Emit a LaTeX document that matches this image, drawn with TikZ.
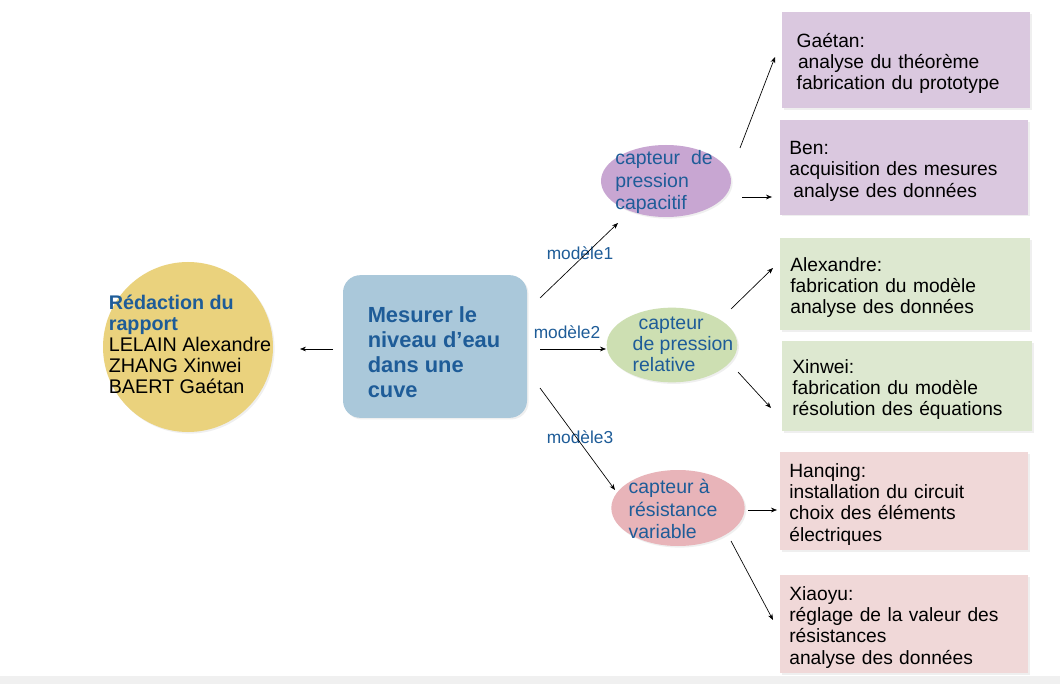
\documentclass[tikz,border=0pt]{standalone}
\usepackage{fontspec}
\setmainfont{Liberation Sans}
\usetikzlibrary{shapes.geometric,arrows.meta,shadows}
\definecolor{txtblue}{RGB}{30,92,152}
\definecolor{yellowc}{RGB}{234,210,125}
\definecolor{bluebox}{RGB}{170,200,218}
\definecolor{purpell}{RGB}{200,166,210}
\definecolor{greenell}{RGB}{205,223,178}
\definecolor{pinkell}{RGB}{232,180,185}
\definecolor{purpbox}{RGB}{218,200,223}
\definecolor{greenbox}{RGB}{221,232,208}
\definecolor{pinkbox}{RGB}{240,216,216}
\newcommand{\toppad}{\rule{0pt}{15.5pt}}
\tikzset{
  shad/.style={drop shadow={opacity=0.12,shadow xshift=1.2pt,shadow yshift=-1.2pt}},
  arr/.style={-{Stealth[length=4.5pt,width=3.5pt]},line width=0.5pt,black},
  ell/.style={ellipse,inner sep=0pt,shad},
  elltxt/.style={align=left,text=txtblue,font=\fontsize{14.6pt}{16.6pt}\selectfont,inner sep=0pt},
  tbox/.style={rectangle,shad,align=left,inner xsep=7pt,text width=172pt,font=\fontsize{14.4pt}{15.9pt}\selectfont},
  lbl/.style={text=txtblue,font=\fontsize{13pt}{15pt}\selectfont,inner sep=0pt},
}
\begin{document}
\begin{tikzpicture}[x=0.75pt,y=-0.75pt]
\useasboundingbox (0,0) rectangle (1060,684);
\fill[white] (0,0) rectangle (1060,684);
\fill[black!6] (0,676) rectangle (1060,684);

% left circle
\node[circle,fill=yellowc,minimum size=127.5pt,inner sep=0pt,shad] (report) at (188,347) {};
\node[align=left,inner sep=0pt,font=\fontsize{14.8pt}{15.75pt}\selectfont] (reporttxt) at (190,344)
  {\textcolor{txtblue}{\textbf{Rédaction du}}\\\textcolor{txtblue}{\textbf{rapport}}\\LELAIN Alexandre\\ZHANG Xinwei\\BAERT Gaétan};

% central box
\node[rectangle,rounded corners=13pt,fill=bluebox,minimum width=138pt,minimum height=107pt,shad] (measure) at (435,346.5) {};
\node[align=left,inner sep=0pt,text=txtblue,font=\bfseries\fontsize{16.4pt}{18.9pt}\selectfont] (measuretxt) at (434,352)
  {Mesurer le\\niveau d’eau\\dans une\\cuve};

% ellipses
\node[ell,fill=purpell,minimum width=97.5pt,minimum height=54pt] (capa) at (666,181) {};
\node[elltxt] (capatxt) at (664,182) {capteur\ \ de\\pression\\capacitif};
\node[ell,fill=greenell,minimum width=98pt,minimum height=56pt] (rel) at (672,345) {};
\node[elltxt,font=\fontsize{14.6pt}{15.8pt}\selectfont] (reltxt) at (683,344) {\hspace*{4.5pt}capteur\\de pression\\relative};
\node[ell,fill=pinkell,minimum width=100pt,minimum height=57pt] (resi) at (678,508) {};
\node[elltxt] (resitxt) at (673,509) {capteur à\\résistance\\variable};

% model labels
\node[lbl] (l1) at (580,253) {modèle1};
\node[lbl] (l2) at (567,332) {modèle2};
\node[lbl] (l3) at (580,437) {modèle3};

% right boxes
\node[tbox,fill=purpbox,minimum width=186pt,minimum height=72pt] (gaetan) at (906,60)
  {\toppad\hspace*{4pt}Gaétan:\\\hspace*{5pt}analyse du théorème\\\hspace*{4pt}fabrication du prototype};
\node[tbox,fill=purpbox,minimum width=186pt,minimum height=71pt] (ben) at (904,167.5)
  {\toppad Ben:\\acquisition des mesures\\\hspace*{3pt}analyse des données};
\node[tbox,fill=greenbox,minimum width=187.5pt,minimum height=69pt] (alex) at (905,284)
  {\toppad Alexandre:\\fabrication du modèle\\analyse des données};
\node[tbox,fill=greenbox,minimum width=187.5pt,minimum height=67.5pt] (xinwei) at (907,386)
  {\toppad Xinwei:\\fabrication du modèle\\résolution des équations};
\node[tbox,fill=pinkbox,minimum width=186pt,minimum height=73.5pt] (hanqing) at (904,501)
  {\toppad Hanqing:\\installation du circuit\\choix des éléments\\électriques};
\node[tbox,fill=pinkbox,minimum width=186pt,minimum height=73.5pt] (xiaoyu) at (904,624)
  {\toppad Xiaoyu:\\réglage de la valeur des\\résistances\\analyse des données};

% connector end points
\coordinate (bs) at (333,349); \coordinate (be) at (300,349);
\coordinate (m1s) at (540,298); \coordinate (m1e) at (618,223);
\coordinate (m2s) at (540,349); \coordinate (m2e) at (606,349);
\coordinate (m3s) at (540,388); \coordinate (m3e) at (615,490);
\coordinate (p1s) at (740,148); \coordinate (p1e) at (775,57);
\coordinate (p2s) at (742,197); \coordinate (p2e) at (772,197);
\coordinate (g1s) at (731,309); \coordinate (g1e) at (773,268);
\coordinate (g2s) at (738,372); \coordinate (g2e) at (771,408);
\coordinate (r1s) at (748,510); \coordinate (r1e) at (777,510);
\coordinate (r2s) at (731,541); \coordinate (r2e) at (773,620);

\draw[arr] (bs) -- (be);
\draw[arr] (m1s) -- (m1e);
\draw[arr] (m2s) -- (m2e);
\draw[arr] (m3s) -- (m3e);
\draw[arr] (p1s) -- (p1e);
\draw[arr] (p2s) -- (p2e);
\draw[arr] (g1s) -- (g1e);
\draw[arr] (g2s) -- (g2e);
\draw[arr] (r1s) -- (r1e);
\draw[arr] (r2s) -- (r2e);
\end{tikzpicture}
\end{document}
